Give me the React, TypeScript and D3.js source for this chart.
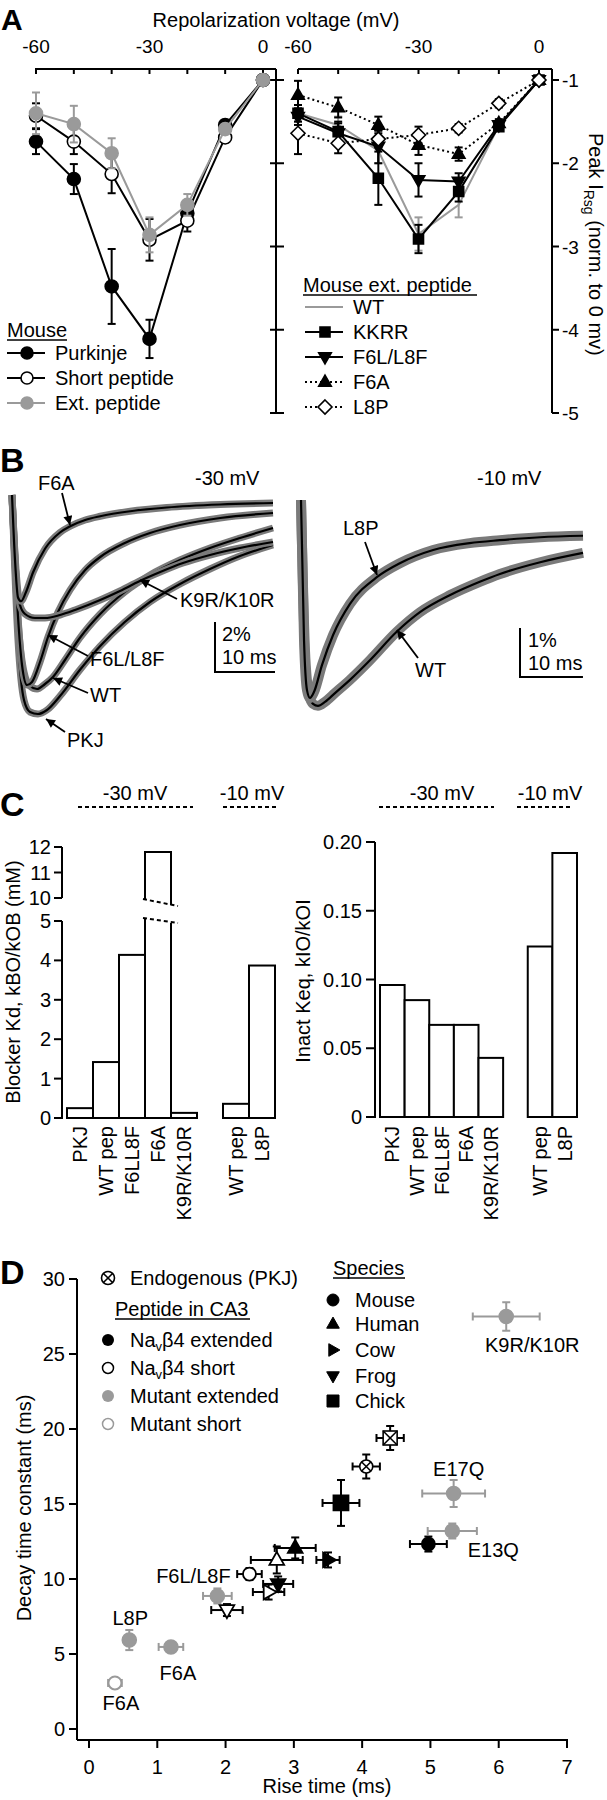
import React from 'react';
import * as d3 from 'd3';

const FONT = "'Liberation Sans', Arial, Helvetica, sans-serif";
const GRAY = '#9a9a9a';
const TRACE_GRAY = '#7a7a7a';

// ---------------- Panel A data ----------------
const voltages = [-60, -50, -40, -30, -20, -10, 0];
const voltTickLabels = [-60, -30, 0];
const peakTicks = [-1, -2, -3, -4, -5];

const purkinje = [-1.74, -2.19, -3.48, -4.11, -2.6, -1.54, -1];
const purkinjeErr = [0.15, 0.18, 0.45, 0.23, 0.1, 0.06, 0];
const shortPep = [-1.43, -1.74, -2.13, -2.92, -2.69, -1.69, -1];
const shortPepErr = [0.15, 0.15, 0.23, 0.25, 0.13, 0.06, 0];
const extPep = [-1.4, -1.53, -1.88, -2.86, -2.5, -1.59, -1];
const extPepErr = [0.25, 0.22, 0.18, 0.21, 0.13, 0.06, 0];

const wtExt = [-1.4, -1.54, -1.85, -2.85, -2.5, -1.55, -1];
const wtExtErr = [0.1, 0.1, 0.15, 0.2, 0.15, 0.05, 0];
const kkrr = [-1.4, -1.62, -2.18, -2.91, -2.34, -1.56, -1];
const kkrrErr = [0.1, 0.12, 0.32, 0.17, 0.12, 0.05, 0];
const f6lL8f = [-1.44, -1.64, -1.8, -2.2, -2.22, -1.54, -1];
const f6lL8fErr = [0.1, 0.12, 0.2, 0.2, 0.1, 0.05, 0];
const f6a = [-1.18, -1.33, -1.54, -1.78, -1.89, -1.52, -1];
const f6aErr = [0.17, 0.12, 0.1, 0.12, 0.08, 0.05, 0];
const l8p = [-1.64, -1.76, -1.71, -1.66, -1.58, -1.28, -1];
const l8pErr = [0.25, 0.12, 0.1, 0.1, 0.05, 0.05, 0];

// ---------------- Panel B data (time ms, current %) ----------------
const traceF6A: [number, number][] = [[0, 0], [0.5, -2.6], [1, -4.1], [1.5, -4.25], [2.3, -3.9], [3.5, -3.1], [5.5, -2.15], [8, -1.5], [9.7, -1.25], [12.2, -1.0], [14.7, -0.85], [19.7, -0.65], [25.8, -0.5], [34.7, -0.38], [43.5, -0.32]];
const traceK9R: [number, number][] = [[0, 0], [0.67, -3.0], [1.33, -4.4], [2.17, -4.76], [3.83, -4.92], [5.5, -4.92], [8, -4.8], [10.5, -4.6], [14.7, -4.2], [18, -3.84], [21.3, -3.44], [24.7, -3.08], [28.5, -2.72], [33, -2.4], [38, -2.12], [43.5, -1.88]];
const traceF6L: [number, number][] = [[0, 0], [0.83, -4.2], [1.67, -6.8], [2.5, -7.6], [3.33, -7.48], [4.67, -6.68], [6, -5.68], [7.67, -4.68], [9.67, -3.8], [12.2, -3.0], [14.7, -2.48], [18.8, -1.92], [23, -1.52], [28, -1.2], [34.7, -0.92], [43.5, -0.72]];
const traceWT30: [number, number][] = [[0, 0], [1, -5.0], [2, -7.08], [3, -7.64], [4.17, -7.76], [5.5, -7.56], [6.83, -7.28], [8.83, -6.6], [11.3, -5.72], [14.7, -4.76], [18.8, -3.88], [23, -3.2], [28, -2.6], [33, -2.12], [38, -1.72], [43.5, -1.32]];
const tracePKJ: [number, number][] = [[0, 0], [1, -5.8], [2, -8.2], [3, -8.68], [4.33, -8.76], [5.83, -8.6], [8, -8.04], [11.3, -7.0], [14.7, -6.04], [18.8, -5.08], [23, -4.28], [28, -3.56], [33, -2.96], [38, -2.44], [43.5, -2.0]];
const traceL8P: [number, number][] = [[0, 0], [0.48, -2.86], [0.95, -3.88], [1.43, -4.04], [2.06, -3.92], [3.33, -3.37], [5.08, -2.76], [7.78, -2.12], [12.1, -1.57], [15.7, -1.29], [21, -1.02], [26.8, -0.88], [31.6, -0.82], [38, -0.76], [44.8, -0.73]];
const traceWT10: [number, number][] = [[0, 0], [0.63, -3.06], [1.27, -3.98], [1.9, -4.16], [2.7, -4.2], [3.81, -4.12], [5.4, -3.94], [7.78, -3.67], [10.95, -3.27], [15.2, -2.69], [18.9, -2.29], [23.7, -1.94], [28.4, -1.67], [31.6, -1.51], [38, -1.27], [44.8, -1.08]];

// ---------------- Panel C data ----------------
const labels30 = ['PKJ', 'WT pep', 'F6LL8F', 'F6A', 'K9R/K10R'];
const labels10 = ['WT pep', 'L8P'];
const kd30 = [0.25, 1.42, 4.14, 11.8, 0.13];
const kd10 = [0.36, 3.87];
const keq30 = [0.096, 0.085, 0.067, 0.067, 0.043];
const keq10 = [0.124, 0.192];
const kdTicksLow = [0, 1, 2, 3, 4, 5];
const kdTicksHigh = [10, 11, 12];
const keqTicks = [0, 0.05, 0.1, 0.15, 0.2];
const keqTickLabels = ['0', '0.05', '0.10', '0.15', '0.20'];

// ---------------- Panel D data ----------------
const dRise = [6.11, 4.41, 4.06, 3.69, 5.34, 5.32, 4.97, 3.5, 3.02, 2.75, 2.77, 2.63, 2.35, 1.88, 2.02, 0.59, 1.2, 0.38];
const dDecay = [27.5, 19.4, 17.5, 15.07, 15.7, 13.2, 12.33, 11.27, 12.07, 11.27, 9.67, 9.13, 10.33, 8.87, 7.93, 5.93, 5.47, 3.07];
const dRiseErr = [0.49, 0.2, 0.2, 0.27, 0.46, 0.36, 0.27, 0.17, 0.3, 0.38, 0.22, 0.23, 0.18, 0.21, 0.23, 0.05, 0.18, 0.1];
const dDecayErr = [0.95, 0.8, 0.8, 1.53, 0.9, 0.5, 0.5, 0.5, 0.7, 0.9, 0.5, 0.5, 0.4, 0.5, 0.4, 0.67, 0.3, 0.3];
const dShape = ['circle', 'square', 'circle', 'square', 'circle', 'circle', 'circle', 'right', 'up', 'up', 'down', 'right', 'circle', 'circle', 'down', 'circle', 'circle', 'circle'];
const dKind = ['mutExt', 'endo', 'endo', 'ext', 'mutExt', 'mutExt', 'ext', 'ext', 'ext', 'short', 'ext', 'short', 'short', 'mutExt', 'short', 'mutExt', 'mutExt', 'mutShort'];
const dLabel = ['K9R/K10R', '', '', '', 'E17Q', 'E13Q', '', '', '', '', '', '', '', 'F6L/L8F', '', 'L8P', 'F6A', 'F6A'];
const dLabelDx = [26, 0, 0, 0, 5, 41, 0, 0, 0, 0, 0, 0, 0, -24, 0, 1, 7, 6];
const dLabelDy = [35, 0, 0, 0, -18, 26, 0, 0, 0, 0, 0, 0, 0, -13, 0, -15, 33, 27];
const riseTicks = [0, 1, 2, 3, 4, 5, 6, 7];
const decayTicks = [0, 5, 10, 15, 20, 25, 30];
const speciesNames = ['Mouse', 'Human', 'Cow', 'Frog', 'Chick'];
const speciesShapes = ['circle', 'up', 'right', 'down', 'square'];

// ---------------- helpers ----------------
function shapePath(shape: string, cx: number, cy: number, s: number) {
  let pts: number[][] = [];
  if (shape === 'up') pts = [[cx, cy - s * 1.15], [cx + s * 1.05, cy + s * 0.7], [cx - s * 1.05, cy + s * 0.7]];
  else if (shape === 'down') pts = [[cx, cy + s * 1.15], [cx + s * 1.05, cy - s * 0.7], [cx - s * 1.05, cy - s * 0.7]];
  else if (shape === 'right') pts = [[cx + s * 1.15, cy], [cx - s * 0.7, cy - s * 1.05], [cx - s * 0.7, cy + s * 1.05]];
  else if (shape === 'diamond') pts = [[cx, cy - s], [cx + s, cy], [cx, cy + s], [cx - s, cy]];
  else if (shape === 'square') pts = [[cx - s, cy - s], [cx + s, cy - s], [cx + s, cy + s], [cx - s, cy + s]];
  return 'M' + pts.map(p => p.join(',')).join('L') + 'Z';
}

function Mk({ shape, cx, cy, s, fill, stroke, sw = 1.6 }: any) {
  if (shape === 'circle') return <circle cx={cx} cy={cy} r={s} fill={fill} stroke={stroke} strokeWidth={sw} />;
  return <path d={shapePath(shape, cx, cy, s)} fill={fill} stroke={stroke} strokeWidth={sw} strokeLinejoin="miter" />;
}

function ErrY({ cx, y0, y1, color, cap = 4, sw = 2 }: any) {
  return (
    <g stroke={color} strokeWidth={sw}>
      <line x1={cx} x2={cx} y1={y0} y2={y1} />
      <line x1={cx - cap} x2={cx + cap} y1={y0} y2={y0} />
      <line x1={cx - cap} x2={cx + cap} y1={y1} y2={y1} />
    </g>
  );
}

function ErrX({ cy, x0, x1, color, cap = 4, sw = 2 }: any) {
  return (
    <g stroke={color} strokeWidth={sw}>
      <line x1={x0} x2={x1} y1={cy} y2={cy} />
      <line x1={x0} x2={x0} y1={cy - cap} y2={cy + cap} />
      <line x1={x1} x2={x1} y1={cy - cap} y2={cy + cap} />
    </g>
  );
}

// ---------------- Panel A ----------------
function SeriesA({ x, y, vals, errs, color, dash, shape, fill, s, markerStroke }: any) {
  const line = d3.line<number>().x((_, i) => x(voltages[i])).y(d => y(d));
  return (
    <g>
      {errs && vals.map((v: number, i: number) => errs[i] > 0 ? (
        <ErrY key={'e' + i} cx={x(voltages[i])} y0={y(v - errs[i])} y1={y(v + errs[i])} color={color} />
      ) : null)}
      <path d={line(vals) || ''} fill="none" stroke={color} strokeWidth={2} strokeDasharray={dash} />
      {shape && vals.map((v: number, i: number) => (
        <Mk key={'m' + i} shape={shape} cx={x(voltages[i])} cy={y(v)} s={s} fill={fill} stroke={markerStroke || color} />
      ))}
    </g>
  );
}

function LegendRow({ x, y, color, dash, shape, fill, s, text, markerStroke }: any) {
  return (
    <g>
      <line x1={x} x2={x + 38} y1={y} y2={y} stroke={color} strokeWidth={2} strokeDasharray={dash} />
      {shape && <Mk shape={shape} cx={x + 20} cy={y} s={s} fill={fill} stroke={markerStroke || color} />}
      <text x={x + 48} y={y + 7} fontSize={20}>{text}</text>
    </g>
  );
}

function PanelA() {
  const xL = d3.scaleLinear().domain([-60, 0]).range([36, 263]);
  const xR = d3.scaleLinear().domain([-60, 0]).range([298, 539]);
  const y = d3.scaleLinear().domain([-1, -5]).range([80, 413]);
  const axTop = 69;
  return (
    <g>
      <text x={1} y={30} fontSize={30} fontWeight="bold">A</text>
      <text x={276} y={27} fontSize={20} textAnchor="middle">Repolarization voltage (mV)</text>
      {[{ x: xL, x0: 35, x1: 276 }, { x: xR, x0: 298, x1: 552 }].map((a, k) => (
        <g key={k}>
          <line x1={a.x0} x2={a.x1} y1={axTop} y2={axTop} stroke="#000" strokeWidth={2} />
          {voltages.map(v => <line key={v} x1={a.x(v)} x2={a.x(v)} y1={axTop} y2={axTop + 5} stroke="#000" strokeWidth={2} />)}
          {voltTickLabels.map(v => <text key={v} x={a.x(v)} y={53} fontSize={19} textAnchor="middle">{v}</text>)}
        </g>
      ))}
      <line x1={276} x2={276} y1={axTop} y2={y(-5)} stroke="#000" strokeWidth={2} />
      {peakTicks.map(t => <line key={t} x1={270} x2={284} y1={y(t)} y2={y(t)} stroke="#000" strokeWidth={2} />)}
      <line x1={552} x2={552} y1={axTop} y2={y(-5)} stroke="#000" strokeWidth={2} />
      {peakTicks.map(t => (
        <g key={t}>
          <line x1={552} x2={559} y1={y(t)} y2={y(t)} stroke="#000" strokeWidth={2} />
          <text x={562} y={y(t) + 7} fontSize={19}>{t}</text>
        </g>
      ))}
      <text transform="translate(589,133) rotate(90)" fontSize={20}>
        Peak I<tspan fontSize={14} dy={5}>Rsg</tspan><tspan dy={-5}> (norm. to 0 mv)</tspan>
      </text>
      <SeriesA x={xL} y={y} vals={purkinje} errs={purkinjeErr} color="#000" shape="circle" fill="#000" s={6.5} />
      <SeriesA x={xL} y={y} vals={shortPep} errs={shortPepErr} color="#000" shape="circle" fill="#fff" s={6.5} />
      <SeriesA x={xL} y={y} vals={extPep} errs={extPepErr} color={GRAY} shape="circle" fill={GRAY} s={6.5} />
      <SeriesA x={xR} y={y} vals={wtExt} errs={wtExtErr} color={GRAY} />
      <SeriesA x={xR} y={y} vals={kkrr} errs={kkrrErr} color="#000" shape="square" fill="#000" s={5} />
      <SeriesA x={xR} y={y} vals={f6lL8f} errs={f6lL8fErr} color="#000" shape="down" fill="#000" s={6} />
      <SeriesA x={xR} y={y} vals={f6a} errs={f6aErr} color="#000" dash="2 3" shape="up" fill="#000" s={6} />
      <SeriesA x={xR} y={y} vals={l8p} errs={l8pErr} color="#000" dash="2 3" shape="diamond" fill="#fff" s={7} />
      <text x={7} y={337} fontSize={20}>Mouse</text>
      <line x1={7} x2={67} y1={340} y2={340} stroke="#000" strokeWidth={1.5} />
      <LegendRow x={7} y={353} color="#000" shape="circle" fill="#000" s={6} text="Purkinje" />
      <LegendRow x={7} y={378} color="#000" shape="circle" fill="#fff" s={6} text="Short peptide" />
      <LegendRow x={7} y={403} color={GRAY} shape="circle" fill={GRAY} s={6} text="Ext. peptide" />
      <text x={303} y={292} fontSize={20}>Mouse ext. peptide</text>
      <line x1={303} x2={477} y1={295} y2={295} stroke="#000" strokeWidth={1.5} />
      <LegendRow x={305} y={307} color={GRAY} text="WT" />
      <LegendRow x={305} y={332} color="#000" shape="square" fill="#000" s={5} text="KKRR" />
      <LegendRow x={305} y={357} color="#000" shape="down" fill="#000" s={6} text="F6L/L8F" />
      <LegendRow x={305} y={382} color="#000" dash="2 3" shape="up" fill="#000" s={6} text="F6A" />
      <LegendRow x={305} y={407} color="#000" dash="2 3" shape="diamond" fill="#fff" s={7} text="L8P" />
    </g>
  );
}

// ---------------- Panel B ----------------
function Trace({ data, x, y, gw }: any) {
  const line = d3.line<[number, number]>().x(d => x(d[0])).y(d => y(d[1])).curve(d3.curveMonotoneX);
  const p = line(data) || '';
  return (
    <g fill="none">
      <path d={p} stroke={TRACE_GRAY} strokeWidth={gw} strokeLinejoin="round" />
      <path d={p} stroke="#000" strokeWidth={2.2} />
    </g>
  );
}

function Arrow({ x1, y1, x2, y2 }: any) {
  return <line x1={x1} y1={y1} x2={x2} y2={y2} stroke="#000" strokeWidth={1.8} markerEnd="url(#arrowHead)" />;
}

function PanelB() {
  const x1 = d3.scaleLinear().domain([0, 43.5]).range([12, 273]);
  const y1 = d3.scaleLinear().domain([0, -1]).range([495, 520]);
  const x2 = d3.scaleLinear().domain([0, 44.8]).range([301, 583]);
  const y2 = d3.scaleLinear().domain([0, -1]).range([500, 549]);
  const traces30 = [tracePKJ, traceWT30, traceF6L, traceK9R, traceF6A];
  const traces10 = [traceWT10, traceL8P];
  const sb1x = 215, sb1y = 672;
  const sb2x = 520, sb2y = 677;
  return (
    <g>
      <text x={0} y={472} fontSize={34} fontWeight="bold">B</text>
      {traces30.map((t, i) => <Trace key={i} data={t} x={x1} y={y1} gw={7} />)}
      {traces10.map((t, i) => <Trace key={i} data={t} x={x2} y={y2} gw={10} />)}
      <text x={195} y={485} fontSize={20}>-30 mV</text>
      <text x={477} y={485} fontSize={20}>-10 mV</text>
      <text x={38} y={490} fontSize={20}>F6A</text>
      <Arrow x1={62} y1={493} x2={70} y2={525} />
      <text x={180} y={607} fontSize={20}>K9R/K10R</text>
      <Arrow x1={177} y1={599} x2={140} y2={580} />
      <text x={90} y={666} fontSize={20}>F6L/L8F</text>
      <Arrow x1={88} y1={656} x2={48} y2={635} />
      <text x={90} y={702} fontSize={20}>WT</text>
      <Arrow x1={88} y1={693} x2={53} y2={678} />
      <text x={67} y={747} fontSize={20}>PKJ</text>
      <Arrow x1={65} y1={732} x2={46} y2={719} />
      <text x={343} y={535} fontSize={20}>L8P</text>
      <Arrow x1={365} y1={542} x2={377} y2={575} />
      <text x={415} y={677} fontSize={20}>WT</text>
      <Arrow x1={418} y1={658} x2={397} y2={630} />
      <path d={`M${sb1x},${sb1y - (y1(-2) - y1(0))}V${sb1y}H${sb1x + (x1(10) - x1(0))}`} fill="none" stroke="#000" strokeWidth={2} />
      <text x={222} y={641} fontSize={20}>2%</text>
      <text x={222} y={664} fontSize={20}>10 ms</text>
      <path d={`M${sb2x},${sb2y - (y2(-1) - y2(0))}V${sb2y}H${sb2x + (x2(10) - x2(0))}`} fill="none" stroke="#000" strokeWidth={2} />
      <text x={528} y={647} fontSize={20}>1%</text>
      <text x={528} y={670} fontSize={20}>10 ms</text>
    </g>
  );
}

// ---------------- Panel C ----------------
function XLabels({ band, labs, idx, top }: any) {
  return labs.map((l: string, i: number) => {
    const cx = (band(idx[i]) as number) + band.bandwidth() / 2 + 7;
    return <text key={i} transform={`translate(${cx},${top}) rotate(-90)`} fontSize={20} textAnchor="end">{l}</text>;
  });
}

function PanelC() {
  const slots = d3.range(8);
  const idx30 = [0, 1, 2, 3, 4];
  const idx10 = [6, 7];
  const bL = d3.scaleBand<number>().domain(slots).range([67, 275]);
  const yLow = d3.scaleLinear().domain([0, 5]).range([1118, 921]);
  const yHigh = d3.scaleLinear().domain([10, 12]).range([898, 847]);
  const bR = d3.scaleBand<number>().domain(slots).range([380, 577]);
  const yR = d3.scaleLinear().domain([0, 0.2]).range([1117, 842]);
  const axL = 62, axR = 375;
  const kdVals = [...kd30, ...kd10];
  const kdIdx = [...idx30, ...idx10];
  const keqVals = [...keq30, ...keq10];
  return (
    <g>
      <text x={0} y={816} fontSize={34} fontWeight="bold">C</text>
      <text x={135} y={800} fontSize={20} textAnchor="middle">-30 mV</text>
      <line x1={78} x2={193} y1={807} y2={807} stroke="#000" strokeWidth={2} strokeDasharray="4 3" />
      <text x={252} y={800} fontSize={20} textAnchor="middle">-10 mV</text>
      <line x1={223} x2={278} y1={807} y2={807} stroke="#000" strokeWidth={2} strokeDasharray="4 3" />
      <text x={442} y={800} fontSize={20} textAnchor="middle">-30 mV</text>
      <line x1={379} x2={494} y1={807} y2={807} stroke="#000" strokeWidth={2} strokeDasharray="4 3" />
      <text x={550} y={800} fontSize={20} textAnchor="middle">-10 mV</text>
      <line x1={517} x2={573} y1={807} y2={807} stroke="#000" strokeWidth={2} strokeDasharray="4 3" />
      <line x1={axL} x2={axL} y1={yHigh(12)} y2={yHigh(10)} stroke="#000" strokeWidth={2} />
      <line x1={axL} x2={axL} y1={yLow(5)} y2={yLow(0) + 1} stroke="#000" strokeWidth={2} />
      {kdTicksHigh.map(t => (
        <g key={'h' + t}>
          <line x1={axL - 8} x2={axL} y1={yHigh(t)} y2={yHigh(t)} stroke="#000" strokeWidth={2} />
          <text x={axL - 11} y={yHigh(t) + 7} fontSize={20} textAnchor="end">{t}</text>
        </g>
      ))}
      {kdTicksLow.map(t => (
        <g key={'l' + t}>
          <line x1={axL - 8} x2={axL} y1={yLow(t)} y2={yLow(t)} stroke="#000" strokeWidth={2} />
          <text x={axL - 11} y={yLow(t) + 7} fontSize={20} textAnchor="end">{t}</text>
        </g>
      ))}
      <text transform={`translate(20,982) rotate(-90)`} fontSize={20} textAnchor="middle">Blocker Kd, kBO/kOB (mM)</text>
      {kdVals.map((v, i) => {
        const x0 = bL(kdIdx[i]) as number;
        const x1 = x0 + bL.bandwidth();
        if (v > 5) {
          const upB = yHigh(10) + 2, loB = yLow(5) - 2;
          return (
            <g key={i} fill="none" stroke="#000" strokeWidth={2}>
              <path d={`M${x0},${upB}V${yHigh(v)}H${x1}V${upB + 5}`} />
              <path d={`M${x0},${loB}V${yLow(0)}H${x1}V${loB + 4}`} />
              <line x1={x0 - 2} x2={x1 + 7} y1={upB - 1} y2={upB + 6} strokeDasharray="4 3" />
              <line x1={x0 - 2} x2={x1 + 7} y1={loB - 1} y2={loB + 4} strokeDasharray="4 3" />
            </g>
          );
        }
        return <rect key={i} x={x0} y={yLow(v)} width={bL.bandwidth()} height={yLow(0) - yLow(v)} fill="#fff" stroke="#000" strokeWidth={2} />;
      })}
      <XLabels band={bL} labs={[...labels30, ...labels10]} idx={kdIdx} top={1126} />
      <line x1={axR} x2={axR} y1={yR(0.2)} y2={yR(0) + 1} stroke="#000" strokeWidth={2} />
      {keqTicks.map((t, i) => (
        <g key={t}>
          <line x1={axR - 9} x2={axR} y1={yR(t)} y2={yR(t)} stroke="#000" strokeWidth={2} />
          <text x={axR - 13} y={yR(t) + 7} fontSize={20} textAnchor="end">{keqTickLabels[i]}</text>
        </g>
      ))}
      <text transform={`translate(310,981) rotate(-90)`} fontSize={20} textAnchor="middle">Inact Keq, kIO/kOI</text>
      {keqVals.map((v, i) => {
        const x0 = bR(kdIdx[i]) as number;
        return <rect key={i} x={x0} y={yR(v)} width={bR.bandwidth()} height={yR(0) - yR(v)} fill="#fff" stroke="#000" strokeWidth={2} />;
      })}
      <XLabels band={bR} labs={[...labels30, ...labels10]} idx={kdIdx} top={1126} />
    </g>
  );
}

// ---------------- Panel D ----------------
function DMarker({ kind, shape, cx, cy }: any) {
  if (kind === 'endo') {
    if (shape === 'square') {
      const s = 7;
      return (
        <g stroke="#000" strokeWidth={1.6} fill="#fff">
          <rect x={cx - s} y={cy - s} width={2 * s} height={2 * s} />
          <line x1={cx - s} y1={cy - s} x2={cx + s} y2={cy + s} />
          <line x1={cx + s} y1={cy - s} x2={cx - s} y2={cy + s} />
        </g>
      );
    }
    const r = 6.5, d = r * 0.7;
    return (
      <g stroke="#000" strokeWidth={1.6} fill="#fff">
        <circle cx={cx} cy={cy} r={r} />
        <line x1={cx - d} y1={cy - d} x2={cx + d} y2={cy + d} />
        <line x1={cx + d} y1={cy - d} x2={cx - d} y2={cy + d} />
      </g>
    );
  }
  if (kind === 'mutExt') return <Mk shape="circle" cx={cx} cy={cy} s={7} fill={GRAY} stroke={GRAY} />;
  if (kind === 'mutShort') return <Mk shape="circle" cx={cx} cy={cy} s={6.5} fill="#fff" stroke={GRAY} sw={2} />;
  const fill = kind === 'ext' ? '#000' : '#fff';
  const s = shape === 'square' ? 7.5 : shape === 'circle' ? 6.5 : 7;
  return <Mk shape={shape} cx={cx} cy={cy} s={s} fill={fill} stroke="#000" sw={1.8} />;
}

function PanelD() {
  const x = d3.scaleLinear().domain([0, 7]).range([89, 567]);
  const y = d3.scaleLinear().domain([0, 30]).range([1729, 1279]);
  const axX = 77, axY = 1740;
  return (
    <g>
      <text x={0} y={1284} fontSize={34} fontWeight="bold">D</text>
      <line x1={axX} x2={axX} y1={y(30)} y2={axY} stroke="#000" strokeWidth={2} />
      <line x1={axX} x2={x(7) + 1} y1={axY} y2={axY} stroke="#000" strokeWidth={2} />
      {decayTicks.map(t => (
        <g key={t}>
          <line x1={axX - 8} x2={axX} y1={y(t)} y2={y(t)} stroke="#000" strokeWidth={2} />
          <text x={axX - 12} y={y(t) + 7} fontSize={20} textAnchor="end">{t}</text>
        </g>
      ))}
      {riseTicks.map(t => (
        <g key={t}>
          <line x1={x(t)} x2={x(t)} y1={axY} y2={axY + 8} stroke="#000" strokeWidth={2} />
          <text x={x(t)} y={1774} fontSize={20} textAnchor="middle">{t}</text>
        </g>
      ))}
      <text x={327} y={1793} fontSize={20} textAnchor="middle">Rise time (ms)</text>
      <text transform="translate(31,1508) rotate(-90)" fontSize={20} textAnchor="middle">Decay time constant (ms)</text>
      {dRise.map((r, i) => {
        const cx = x(r), cy = y(dDecay[i]);
        const col = dKind[i].startsWith('mut') ? GRAY : '#000';
        return (
          <g key={i}>
            <ErrX cy={cy} x0={x(r - dRiseErr[i])} x1={x(r + dRiseErr[i])} color={col} cap={4} />
            <ErrY cx={cx} y0={y(dDecay[i] + dDecayErr[i])} y1={y(dDecay[i] - dDecayErr[i])} color={col} cap={4} />
            <DMarker kind={dKind[i]} shape={dShape[i]} cx={cx} cy={cy} />
          </g>
        );
      })}
      {dLabel.map((l, i) => l ? (
        <text key={'l' + i} x={x(dRise[i]) + dLabelDx[i]} y={y(dDecay[i]) + dLabelDy[i]} fontSize={20} textAnchor="middle">{l}</text>
      ) : null)}
      <DMarker kind="endo" shape="circle" cx={108} cy={1278} />
      <text x={130} y={1285} fontSize={20}>Endogenous (PKJ)</text>
      <text x={115} y={1316} fontSize={20}>Peptide in CA3</text>
      <line x1={115} x2={250} y1={1319} y2={1319} stroke="#000" strokeWidth={1.5} />
      <circle cx={108} cy={1340} r={6} fill="#000" />
      <text x={130} y={1347} fontSize={20}>Na<tspan fontSize={13} dy={4}>v</tspan><tspan dy={-4}>β4 extended</tspan></text>
      <circle cx={108} cy={1368} r={5.5} fill="#fff" stroke="#000" strokeWidth={1.5} />
      <text x={130} y={1375} fontSize={20}>Na<tspan fontSize={13} dy={4}>v</tspan><tspan dy={-4}>β4 short</tspan></text>
      <circle cx={108} cy={1396} r={6} fill={GRAY} />
      <text x={130} y={1403} fontSize={20}>Mutant extended</text>
      <circle cx={108} cy={1424} r={5.5} fill="#fff" stroke={GRAY} strokeWidth={1.5} />
      <text x={130} y={1431} fontSize={20}>Mutant short</text>
      <text x={333} y={1275} fontSize={20}>Species</text>
      <line x1={333} x2={405} y1={1278} y2={1278} stroke="#000" strokeWidth={1.5} />
      {speciesNames.map((n, i) => {
        const cy = [1300, 1324, 1350, 1376, 1401][i];
        return (
          <g key={n}>
            <Mk shape={speciesShapes[i]} cx={333} cy={cy} s={6} fill="#000" stroke="#000" sw={1} />
            <text x={355} y={cy + 7} fontSize={20}>{n}</text>
          </g>
        );
      })}
    </g>
  );
}

export default function App() {
  return (
    <svg width={607} height={1800} viewBox="0 0 607 1800" fontFamily={FONT}
      style={{ position: 'absolute', left: 0, top: 0, background: '#fff' }}>
      <defs>
        <marker id="arrowHead" viewBox="0 0 10 10" refX={10} refY={5} markerWidth={11} markerHeight={9}
          markerUnits="userSpaceOnUse" orient="auto">
          <path d="M0,0L10,5L0,10Z" fill="#000" />
        </marker>
      </defs>
      <rect x={0} y={0} width={607} height={1800} fill="#fff" />
      <PanelA />
      <PanelB />
      <PanelC />
      <PanelD />
    </svg>
  );
}
